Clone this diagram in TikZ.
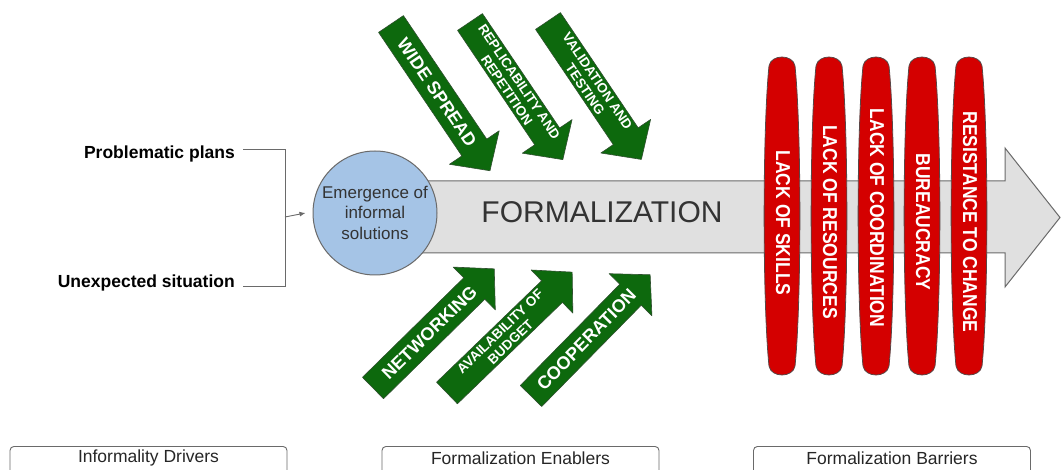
\documentclass[tikz,border=0pt]{standalone}
\usepackage{fontspec}
\setmainfont{Liberation Sans}
\usetikzlibrary{arrows.meta}
\definecolor{gfill}{HTML}{0D690D}
\definecolor{gdraw}{HTML}{2F4F2F}
\definecolor{rfill}{HTML}{D40000}
\definecolor{rdraw}{HTML}{5A4646}
\definecolor{afill}{HTML}{E0E0E0}
\definecolor{adraw}{HTML}{6A6A6A}
\definecolor{cfill}{HTML}{A5C4E6}
\definecolor{txtgray}{HTML}{333333}
\newcommand\fs[2]{\fontsize{#1}{#2}\selectfont}
\newcommand\greenarrow[6]{%
  \begin{scope}[shift={#2},rotate=#3]
    \draw[garrowshape] (0,-15) -- (#4-28,-15) -- (#4-28,-30) -- (#4,0) -- (#4-28,30) -- (#4-28,15) -- (0,15) -- cycle;
    \node[gtext,font=#5,rotate=#3] (#1) at ({(#4-28)/2+8},0) {#6};
  \end{scope}}
\newcommand\redpill[4]{%
  \draw[pillshape] (#2-13,66) .. controls (#2-19.5,130) and (#2-19.5,302) .. (#2-13,366)
    .. controls (#2-11,378) and (#2+11,378) .. (#2+13,366)
    .. controls (#2+19.5,302) and (#2+19.5,130) .. (#2+13,66)
    .. controls (#2+11,54) and (#2-11,54) .. cycle;
  \node[ptext] (#1) at (#2+1,#4) {#3};}
\begin{document}
\begin{tikzpicture}[x=1pt,y=-1pt,
  mainarrow/.style={fill=afill,draw=adraw,line width=1pt,line join=miter},
  emergence/.style={circle,fill=cfill,draw=adraw,line width=1pt,minimum size=124pt,inner sep=0pt},
  circtext/.style={align=center,text=txtgray,font=\fs{17}{20.5},inner sep=0pt},
  formtext/.style={text=txtgray,font=\fs{30}{34},inner sep=0pt},
  driver/.style={font=\bfseries\fs{17.5}{20},inner sep=0pt},
  gline/.style={draw=adraw,line width=0.9pt},
  garrowshape/.style={fill=gfill,draw=gdraw,line width=0.6pt,line join=round},
  gtext/.style={text=white,align=center,inner sep=0pt},
  pillshape/.style={fill=rfill,draw=rdraw,line width=0.8pt},
  ptext/.style={text=white,font=\bfseries\fs{17.5}{20},rotate=-90,yscale=1.15,inner sep=0pt},
  catbox/.style={draw=adraw,line width=0.9pt,rounded corners=4pt,minimum width=277pt,minimum height=44pt,anchor=north,inner sep=0pt},
  cattext/.style={text=black!85,font=\fs{17.5}{20},inner sep=0pt}
]
\useasboundingbox (0,0) rectangle (1061,470);
\clip (0,0) rectangle (1061,470);
\fill[white] (0,0) rectangle (1061,470);

% main arrow
\draw[mainarrow] (400,181) -- (1005,181) -- (1005,148) -- (1060,217.5) -- (1005,287) -- (1005,253) -- (400,253) -- cycle;
\node[formtext] (formal) at (602,212) {FORMALIZATION};

% circle
\node[emergence] (emerg) at (375,213) {};
\node[circtext] (emergtext) at (375,212.5) {Emergence of\\informal\\solutions};

% drivers
\node[driver,anchor=base east] (plans) at (235,158.5) {Problematic plans};
\node[driver,anchor=base east] (unexp) at (235,288) {Unexpected situation};
\coordinate (jt) at (285,149);
\coordinate (jb) at (285,286);
\coordinate (join) at (285,217);
\draw[gline] (243,149) -- (jt) -- (jb) -- (243,286);
\draw[gline,-{Latex[length=6pt,width=5pt]}] (join) -- ([xshift=-7pt]emerg.west);

% enablers
\greenarrow{ws}{(391,24)}{-56}{177}{\bfseries\fs{18}{20}}{WIDE SPREAD}
\greenarrow{rep}{(470,22)}{-56}{166}{\bfseries\fs{13.5}{15}}{REPLICABILITY AND\\REPETITION}
\greenarrow{val}{(548,21)}{-56}{167}{\bfseries\fs{13.5}{15}}{VALIDATION AND\\TESTING}
\greenarrow{net}{(373,388)}{44.5}{170}{\bfseries\fs{18}{20}}{NETWORKING}
\greenarrow{bud}{(447,393)}{44}{174}{\bfseries\fs{13.5}{15}}{AVAILABILITY OF\\BUDGET}
\greenarrow{coop}{(531,396)}{45.5}{170}{\bfseries\fs{18}{20}}{COOPERATION}

% barriers
\redpill{skills}{782}{LACK OF SKILLS}{223}
\redpill{resources}{829}{LACK OF RESOURCES}{222}
\redpill{coord}{876}{LACK OF COORDINATION}{218}
\redpill{bureau}{922}{BUREAUCRACY}{222}
\redpill{resist}{969}{RESISTANCE TO CHANGE}{222}

% category boxes
\node[catbox] (drivers) at (148.5,446) {};
\node[cattext] (driverslbl) at ([yshift=-12pt]drivers.north) {Informality Drivers};
\node[catbox] (enablers) at (520.5,446) {};
\node[cattext] (enablerslbl) at ([yshift=-12pt]enablers.north) {Formalization Enablers};
\node[catbox] (barriers) at (892,446) {};
\node[cattext] (barrierslbl) at ([yshift=-12pt]barriers.north) {Formalization Barriers};
\end{tikzpicture}
\end{document}
